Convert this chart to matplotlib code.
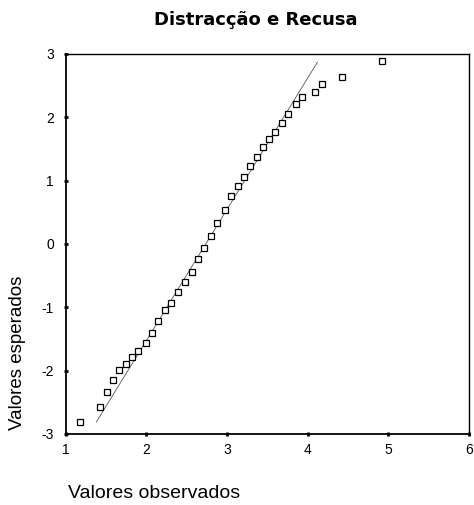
import numpy as np
import matplotlib
matplotlib.use("Agg")
import matplotlib.pyplot as plt

plt.rcParams['font.family'] = ['Liberation Sans', 'DejaVu Sans']
plt.rcParams['axes.unicode_minus'] = False

# valores observados (x) e valores esperados (y) do gráfico Q-Q normal
observados = [1.18, 1.43, 1.51, 1.59, 1.66, 1.75, 1.82, 1.90, 1.99, 2.07,
              2.15, 2.23, 2.31, 2.39, 2.48, 2.56, 2.64, 2.72, 2.80, 2.88,
              2.97, 3.05, 3.13, 3.21, 3.29, 3.37, 3.45, 3.52, 3.60, 3.68,
              3.76, 3.85, 3.93, 4.09, 4.18, 4.43, 4.92]
esperados = [-2.81, -2.58, -2.34, -2.15, -1.99, -1.90, -1.79, -1.69, -1.56, -1.41,
             -1.21, -1.04, -0.93, -0.76, -0.60, -0.44, -0.23, -0.07, 0.13, 0.33,
             0.54, 0.75, 0.92, 1.06, 1.23, 1.38, 1.53, 1.66, 1.77, 1.91,
             2.06, 2.21, 2.32, 2.40, 2.52, 2.64, 2.89]

# recta teórica
linha_x = [1.38, 4.12]
linha_y = [-2.81, 2.87]

xticks = [1, 2, 3, 4, 5, 6]
yticks = [-3, -2, -1, 0, 1, 2, 3]

fig = plt.figure(figsize=(4.74, 5.05), dpi=100)
ax = fig.add_axes([0.1386, 0.1406, 0.851, 0.7525])

ax.plot(linha_x, linha_y, color='#555555', lw=0.6)
ax.plot(observados, esperados, 's', ms=5, mfc='white', mec='black', mew=0.9)

ax.set_xlim(1, 6)
ax.set_ylim(-3, 3)
ax.set_xticks(xticks)
ax.set_yticks(yticks)
ax.tick_params(direction='inout', length=3, width=2, labelsize=10)
ax.tick_params(axis='y', pad=7)
ax.tick_params(axis='x', pad=5)

for s in ['left', 'bottom']:
    ax.spines[s].set_linewidth(1.3)
for s in ['top', 'right']:
    ax.spines[s].set_linewidth(1.0)

fig.text(256 / 474, 1 - 20 / 505, 'Distracção e Recusa', ha='center', va='center',
         fontsize=13, fontweight='heavy', family=['DejaVu Sans'])
fig.text(68 / 474, 1 - 493 / 505, 'Valores observados', ha='left', va='center',
         fontsize=14)
fig.text(18 / 474, 1 - 430 / 505, 'Valores esperados', ha='center', va='bottom',
         rotation=90, fontsize=13.5)

fig.savefig('out.png', dpi=100)
